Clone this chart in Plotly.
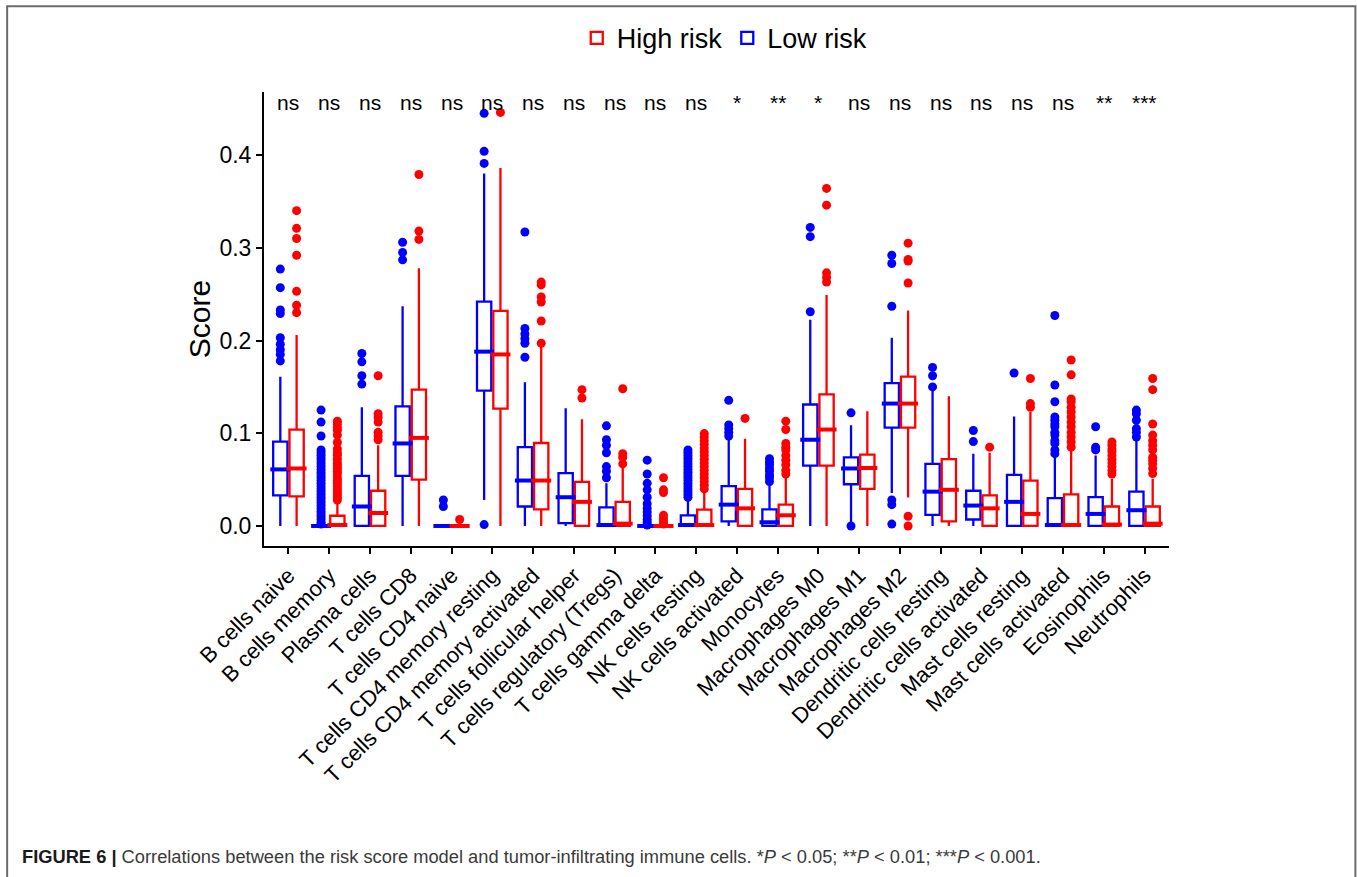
import plotly.graph_objects as go

# ---------------- data ----------------
categories = [
    "B cells naive", "B cells memory", "Plasma cells", "T cells CD8",
    "T cells CD4 naive", "T cells CD4 memory resting", "T cells CD4 memory activated",
    "T cells follicular helper", "T cells regulatory (Tregs)", "T cells gamma delta",
    "NK cells resting", "NK cells activated", "Monocytes", "Macrophages M0",
    "Macrophages M1", "Macrophages M2", "Dendritic cells resting",
    "Dendritic cells activated", "Mast cells resting", "Mast cells activated",
    "Eosinophils", "Neutrophils",
]
sig_labels = ["ns", "ns", "ns", "ns", "ns", "ns", "ns", "ns", "ns", "ns", "ns",
              "*", "**", "*", "ns", "ns", "ns", "ns", "ns", "ns", "**", "***"]

# Low risk (blue)
low_q1 = [0.033, 0, 0, 0.054, 0, 0.146, 0.021, 0.003, 0, 0, 0, 0.005, 0, 0.065,
          0.045, 0.106, 0.012, 0.007, 0, 0, 0, 0]
low_median = [0.061, 0, 0.021, 0.089, 0, 0.188, 0.049, 0.031, 0.001, 0, 0.001, 0.023,
              0.004, 0.093, 0.062, 0.132, 0.037, 0.022, 0.026, 0.001, 0.013, 0.017]
low_q3 = [0.091, 0, 0.054, 0.129, 0, 0.242, 0.085, 0.057, 0.020, 0, 0.0115, 0.043,
          0.018, 0.131, 0.074, 0.154, 0.067, 0.038, 0.055, 0.030, 0.031, 0.037]
low_lower = [0, 0, 0, 0, 0, 0.028, 0, 0, 0, 0, 0, 0, 0, 0, 0.004, 0.0356, 0, 0, 0, 0, 0, 0]
low_upper = [0.161, 0, 0.128, 0.237, 0, 0.380, 0.155, 0.127, 0.046, 0, 0.029, 0.093,
             0.044, 0.2225, 0.1086, 0.203, 0.146, 0.078, 0.118, 0.074, 0.076, 0.092]
low_outliers = [
    [0.277, 0.257, 0.233, 0.229, 0.203, 0.196, 0.190, 0.185, 0.178],
    [0.125, 0.112, 0.097, 0.082, 0.079, 0.076, 0.073, 0.070, 0.067, 0.064, 0.061, 0.058,
     0.055, 0.052, 0.049, 0.046, 0.043, 0.040, 0.037, 0.034, 0.031, 0.028, 0.025, 0.022,
     0.019, 0.016, 0.013, 0.010, 0.007, 0.004, 0.002],
    [0.186, 0.177, 0.162, 0.153],
    [0.306, 0.295, 0.287],
    [0.028, 0.021],
    [0.445, 0.404, 0.391, 0.0015],
    [0.317, 0.213, 0.207, 0.202, 0.197, 0.182],
    [],
    [0.108, 0.093, 0.087, 0.079, 0.064, 0.059, 0.052],
    [0.071, 0.056, 0.046, 0.039, 0.031, 0.024, 0.019, 0.015, 0.011, 0.007, 0.004, 0.001],
    [0.082, 0.079, 0.076, 0.073, 0.070, 0.067, 0.064, 0.061, 0.058, 0.055, 0.052, 0.049,
     0.046, 0.043, 0.040, 0.037, 0.034, 0.031],
    [0.1355, 0.109, 0.105, 0.101, 0.097],
    [0.0726, 0.069, 0.066, 0.062, 0.059, 0.055, 0.052, 0.048],
    [0.322, 0.312, 0.231],
    [0.122, 0.0],
    [0.292, 0.283, 0.237, 0.028, 0.023, 0.002],
    [0.171, 0.162, 0.150],
    [0.103, 0.091],
    [0.165],
    [0.227, 0.152, 0.134, 0.1175, 0.114, 0.110, 0.107, 0.101, 0.098, 0.092, 0.089, 0.082, 0.078],
    [0.107, 0.085, 0.082],
    [0.125, 0.121, 0.114, 0.105, 0.101, 0.096],
]

# High risk (red)
high_q1 = [0.032, 0, 0, 0.050, 0, 0.1265, 0.018, 0, 0, 0, 0, 0, 0, 0.065,
           0.040, 0.106, 0.005, 0, 0, 0, 0, 0]
high_median = [0.062, 0.001, 0.014, 0.095, 0, 0.185, 0.049, 0.026, 0.0025, 0, 0.001,
               0.019, 0.0115, 0.104, 0.0625, 0.132, 0.039, 0.019, 0.013, 0.001, 0.0015, 0.0025]
high_q3 = [0.104, 0.011, 0.038, 0.147, 0, 0.232, 0.0895, 0.0475, 0.026, 0, 0.0177,
           0.040, 0.023, 0.142, 0.077, 0.161, 0.072, 0.033, 0.049, 0.034, 0.021, 0.021]
high_lower = [0, 0, 0, 0, 0, 0, 0, 0, 0, 0, 0, 0, 0, 0, 0, 0.0306, 0, 0, 0, 0, 0, 0]
high_upper = [0.206, 0.026, 0.087, 0.278, 0, 0.386, 0.195, 0.115, 0.064, 0, 0.038,
              0.094, 0.053, 0.249, 0.1236, 0.2325, 0.140, 0.079, 0.123, 0.082, 0.051, 0.051]
high_outliers = [
    [0.340, 0.321, 0.310, 0.292, 0.253, 0.238, 0.230],
    [0.113, 0.110, 0.106, 0.103, 0.098, 0.090, 0.083, 0.079, 0.076, 0.072, 0.068, 0.065,
     0.062, 0.059, 0.056, 0.052, 0.049, 0.046, 0.043, 0.040, 0.037, 0.034, 0.031, 0.028],
    [0.162, 0.121, 0.117, 0.112, 0.101, 0.097, 0.093],
    [0.379, 0.318, 0.309],
    [0.007],
    [0.446],
    [0.263, 0.260, 0.247, 0.2415, 0.221, 0.197],
    [0.147, 0.138],
    [0.148, 0.078, 0.074, 0.067],
    [0.052, 0.039, 0.036, 0.0115, 0.008, 0.005, 0.002],
    [0.0996, 0.096, 0.092, 0.088, 0.084, 0.080, 0.076, 0.072, 0.068, 0.064, 0.060, 0.056,
     0.052, 0.048, 0.044, 0.040],
    [0.116],
    [0.113, 0.104, 0.089, 0.085, 0.082, 0.076, 0.071, 0.066, 0.060, 0.056],
    [0.364, 0.346, 0.273, 0.268, 0.263],
    [],
    [0.305, 0.2875, 0.2857, 0.262, 0.0105, 0.0],
    [],
    [0.085],
    [0.159, 0.132, 0.128],
    [0.179, 0.163, 0.137, 0.134, 0.128, 0.123, 0.1175, 0.112, 0.107, 0.101, 0.096, 0.0906, 0.085],
    [0.0906, 0.087, 0.083, 0.080, 0.076, 0.072, 0.068, 0.064, 0.060, 0.056],
    [0.159, 0.147, 0.110, 0.098, 0.092, 0.087, 0.082, 0.074, 0.071, 0.067, 0.062, 0.0565],
]

# ---------------- layout helpers (pixel geometry) ----------------
W, H = 1357, 877
L, R, T, B = 264, 1169.5, 91.7, 545.7


def fx(px):
    return (px - L) / (R - L)


def fy(py):
    return (B - py) / (B - T)


FONT = "Liberation Sans, Arial, Helvetica, sans-serif"
BLUE = "#0000FF"
RED = "#FF0000"
DODGE = 0.2
BOXW = 0.35

idx = list(range(1, len(categories) + 1))
low_x = [i - DODGE for i in idx]
high_x = [i + DODGE for i in idx]

fig = go.Figure()
groups = [
    ("Low risk", low_x, low_q1, low_median, low_q3, low_lower, low_upper, low_outliers, BLUE),
    ("High risk", high_x, high_q1, high_median, high_q3, high_lower, high_upper, high_outliers, RED),
]
for name, xs, q1, med, q3, lo, hi, outs, color in groups:
    fig.add_trace(go.Box(
        x=xs, q1=q1, median=med, q3=q3, lowerfence=lo, upperfence=hi,
        orientation="v", name=name, legendgroup=name,
        line=dict(color=color, width=2.3), fillcolor="white",
        width=BOXW, whiskerwidth=0, boxpoints=False, hoverinfo="skip",
    ))
    # thicker median bar (ggplot fatten)
    fig.add_trace(go.Scatter(
        x=xs, y=med, mode="markers", showlegend=False, hoverinfo="skip",
        marker=dict(symbol="line-ew", size=BOXW * (R - L) / 22.2,
                    line=dict(color=color, width=4)),
    ))
    ox, oy = [], []
    for xv, vals in zip(xs, outs):
        ox += [xv] * len(vals)
        oy += vals
    fig.add_trace(go.Scatter(
        x=ox, y=oy, mode="markers", showlegend=False, hoverinfo="skip",
        marker=dict(color=color, size=9, line=dict(width=0)),
    ))

annotations = []
for i, lab in zip(idx, sig_labels):
    annotations.append(dict(
        x=i, y=0.4565, xref="x", yref="y", text=lab, showarrow=False,
        font=dict(family=FONT, size=21, color="black"), yanchor="middle",
    ))
annotations.append(dict(
    x=fx(20), y=fy(856), xref="paper", yref="paper", xanchor="left", yanchor="middle",
    showarrow=False, align="left",
    text="<b><span style='color:#1a1a1a'>FIGURE 6 |</span></b> Correlations between the risk score "
         "model and tumor-infiltrating immune cells. *<i>P</i> &lt; 0.05; **<i>P</i> &lt; 0.01; "
         "***<i>P</i> &lt; 0.001.",
    font=dict(family=FONT, size=18.3, color="#3a3a3a"),
))

fig.update_layout(
    width=W, height=H,
    margin=dict(l=L, r=W - R, t=T, b=H - B, pad=0),
    paper_bgcolor="white", plot_bgcolor="white",
    boxmode="overlay",
    font=dict(family=FONT, color="black"),
    showlegend=True,
    legend=dict(
        orientation="h", traceorder="reversed",
        x=fx(725), xanchor="center", y=fy(38), yanchor="middle",
        font=dict(family=FONT, size=27, color="black"),
        bgcolor="rgba(0,0,0,0)", itemwidth=30,
    ),
    annotations=annotations,
    shapes=[dict(
        type="rect", xref="paper", yref="paper",
        x0=fx(7), x1=fx(1356), y0=fy(895), y1=fy(6),
        line=dict(color="#6b6b6b", width=2), fillcolor="rgba(0,0,0,0)", layer="below",
    )],
)
fig.update_xaxes(
    range=[0.4, len(categories) + 0.6], tickmode="array", tickvals=idx, ticktext=categories,
    tickangle=-45, ticks="outside", ticklen=6, tickwidth=1.5, tickcolor="black",
    showline=True, linewidth=2, linecolor="black", showgrid=False, zeroline=False,
    tickfont=dict(family=FONT, size=22, color="black"),
)
fig.update_yaxes(
    range=[-0.0216, 0.468], tickmode="array", tickvals=[0, 0.1, 0.2, 0.3, 0.4],
    ticktext=["0.0", "0.1", "0.2", "0.3", "0.4"],
    ticks="outside", ticklen=6, tickwidth=1.5, tickcolor="black",
    showline=True, linewidth=2, linecolor="black", showgrid=False, zeroline=False,
    tickfont=dict(family=FONT, size=23, color="black"),
    title=dict(text="Score", font=dict(family=FONT, size=30, color="black"), standoff=0),
)

fig.write_html("out.html")
